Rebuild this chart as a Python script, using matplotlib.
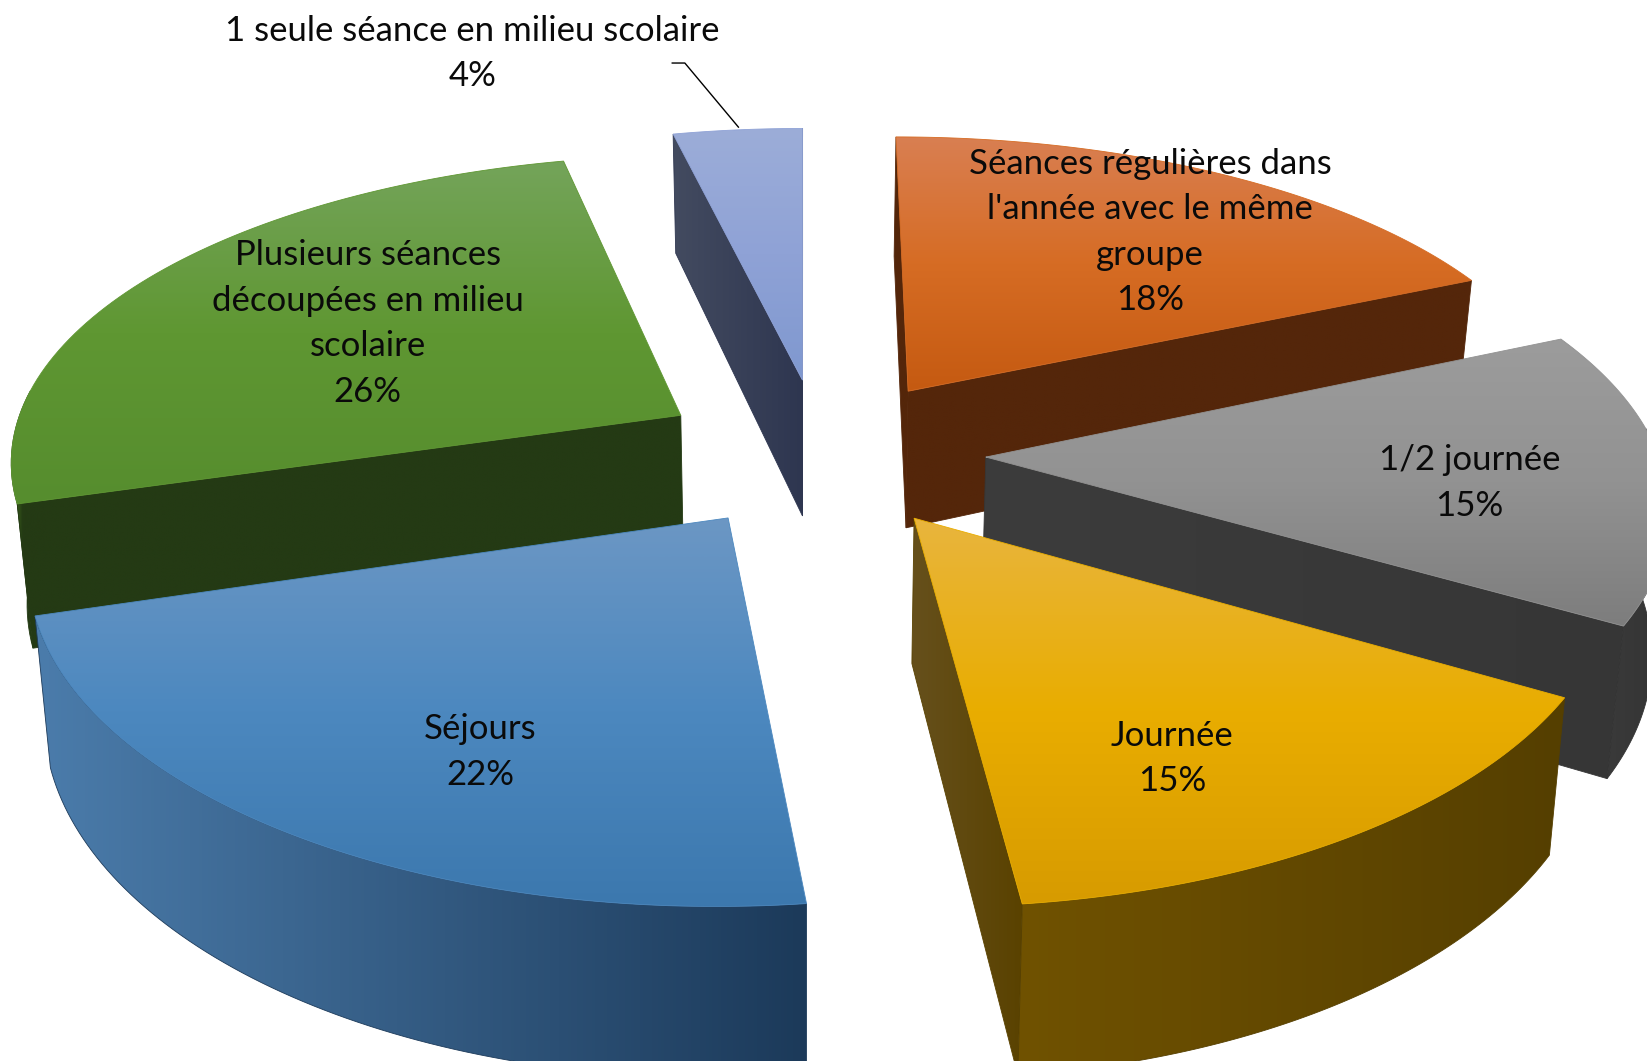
import numpy as np
import matplotlib
matplotlib.use('Agg')
import matplotlib.pyplot as plt
from matplotlib.colors import LinearSegmentedColormap
from matplotlib.patches import Polygon

# chart data, clockwise from 12 o'clock (labels show them rounded)
labels = ["Séances régulières dans\nl'année avec le même\ngroupe", '1/2 journée', 'Journée', 'Séjours',
          'Plusieurs séances\ndécoupées en milieu\nscolaire', '1 seule séance en milieu scolaire']
values = [18.4, 15.0, 14.8, 22.2, 26.0, 3.6]

# colours: top face (light, mid, dark), rim (left, right), flat side wall
top_colors = [['#D97F52', '#D66C24', '#C55A11'], ['#9C9C9C', '#929292', '#7D7D7D'], ['#E8B53E', '#E9AD00', '#D79B00'],
              ['#6C97C4', '#4C88BF', '#3C78AE'], ['#74A45A', '#5F9732', '#568D2E'], ['#9CADD8', '#8FA2D6', '#7F98CF']]
rim_colors = [['#54260A', '#54260A'], ['#3A3A3A', '#333333'], ['#705200', '#553F00'],
              ['#4B7CAB', '#1C3A5A'], ['#4A7A22', '#243A14', '#243A14', '#243A14'], ['#3E465C', '#2E3650']]
wall_colors = [['#54260A', '#54260A'], ['#3C3C3C', '#363636'], ['#66501C', '#5A4200'],
               ['#4B7CAB', '#1C3A5A'], ['#243A14', '#243A14'], ['#434B60', '#2E3650']]

# text centres, in the same units as the axes
label_xy = [(1095, 221), (1399, 460), (1116, 722), (457, 716), (350, 308), (450, 51)]

# projection of the pie plane onto the picture
VX, VY = 765.0, -1544.0
CY = 431.0
A, B = 640.0, CY - VY
G_X, G_Y = 0.135, 0.149
XC = 0.026
EXPLODE = 0.245
DEPTH = 134.0
SHRINK = 0.98


def project(x, y):
    return VX + A * (x + XC) / (1 + G_X * y), VY + B / (1 + G_Y * y)


def extrude(px, py):
    w = B / (py - VY)
    return VX + (px - VX) * SHRINK, py + DEPTH / w


def fill(ax, poly, colors, z, vertical):
    patch = Polygon(poly, closed=True, fc='none', ec='none', zorder=z)
    ax.add_patch(patch)
    cmap = LinearSegmentedColormap.from_list('g', colors)
    grad = np.linspace(0, 1, 256)
    grad = grad[:, None] if vertical else grad[None, :]
    x0, y0 = poly.min(axis=0)
    x1, y1 = poly.max(axis=0)
    im = ax.imshow(grad, cmap=cmap, extent=(x0, x1, y1, y0), aspect='auto', zorder=z, interpolation='bilinear')
    im.set_clip_path(patch)
    # thin outline softens the hard clip edge
    ax.add_patch(Polygon(poly, closed=True, fc='none', ec=colors[len(colors) // 2], lw=0.6, zorder=z + 0.1))


fig = plt.figure(figsize=(16.47, 10.61), dpi=100)
ax = fig.add_axes([0, 0, 1, 1])

edges = np.cumsum([0] + values) / sum(values) * 2 * np.pi
# back slices first, so the front ones overlap them
order = [5, 0, 4, 1, 3, 2]
for n, i in enumerate(order):
    a0, a1 = edges[i], edges[i + 1]
    mid = (a0 + a1) / 2
    cx, cy = EXPLODE * np.sin(mid), EXPLODE * np.cos(mid)
    t = np.linspace(a0, a1, 80)
    arc = np.column_stack(project(cx + np.sin(t), cy + np.cos(t)))
    apex = np.array(project(cx, cy))
    arc_low = np.column_stack(extrude(arc[:, 0], arc[:, 1]))
    apex_low = np.array(extrude(*apex))
    z = 2 + n
    # a radial wall is only drawn when its outer side faces the viewer
    for side, end, end_low in ((-1, arc[0], arc_low[0]), (1, arc[-1], arc_low[-1])):
        d1, d2 = end - apex, apex_low - apex
        if side * (d1[0] * d2[1] - d1[1] * d2[0]) > 0:
            fill(ax, np.array([apex, end, end_low, apex_low]), wall_colors[i], z, False)
    # same for the rim
    front = np.cos(t) < 0.1
    if front.sum() > 1:
        fill(ax, np.vstack([arc[front], arc_low[front][::-1]]), rim_colors[i], z + 0.2, False)
    fill(ax, np.vstack([apex, arc]), top_colors[i], z + 0.4, True)

for name, value, (x, y) in zip(labels, values, label_xy):
    ax.text(x, y, f'{name}\n{round(value)}%', ha='center', va='center', fontsize=25, family='Lato',
            color='#0A0A0A', linespacing=1.52, zorder=20)

ax.plot([640, 652, 703], [60, 60, 121], color='black', lw=1, zorder=20)

ax.set_xlim(0, 1568)
ax.set_ylim(1010, 0)
ax.axis('off')
fig.savefig('out.png', dpi=100, facecolor='white')
